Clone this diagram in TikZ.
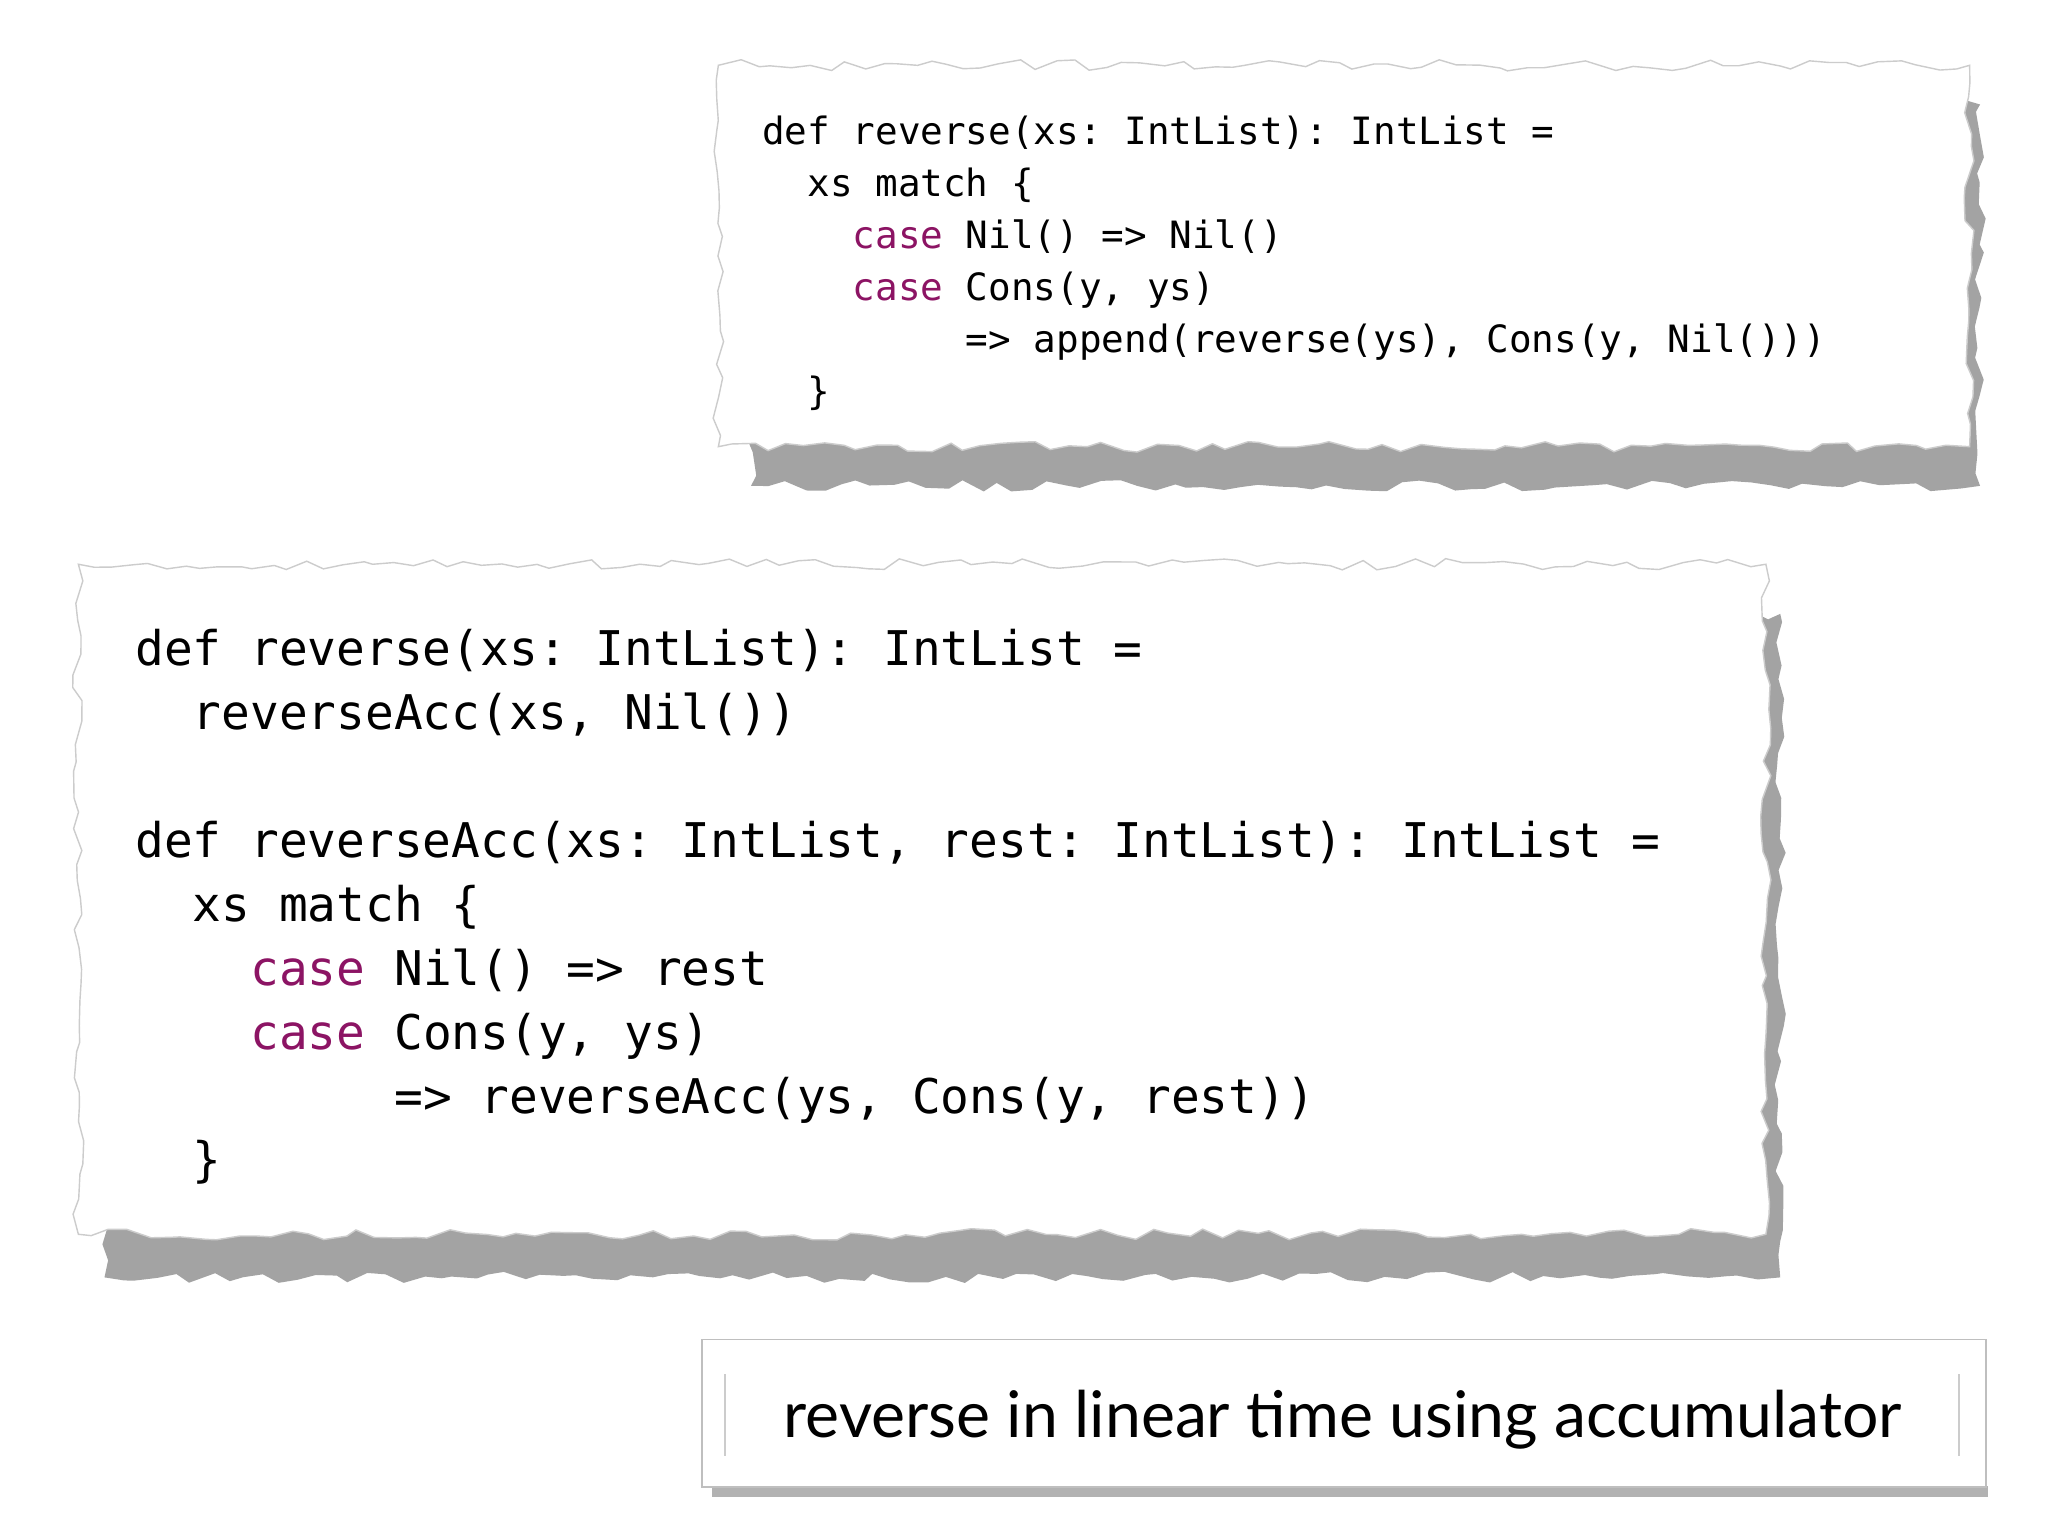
\documentclass[tikz,border=0pt]{standalone}
\usepackage{fontspec}
\setmonofont{DejaVu Sans Mono}
\newfontfamily\captionfont{Lato}
\usetikzlibrary{decorations.pathmorphing}
\definecolor{kwcolor}{RGB}{140,20,100}
\newcommand{\kw}[1]{\textcolor{kwcolor}{#1}}
\tikzset{
    torn/.style={decorate, decoration={random steps, segment length=5pt, amplitude=1.6pt}},
    paper/.style={torn, fill=white, draw=gray!40, line width=0.4pt},
    papershadow/.style={torn, fill=black!65, opacity=0.55},
    code/.style={anchor=north west, align=left, inner sep=0pt, font=\ttfamily}
}
\begin{document}
\begin{tikzpicture}[x=0.01306cm, y=-0.01306cm]
    \pgfmathsetseed{7}
    \useasboundingbox[fill=white] (0,0) rectangle (1568,1176);
    % upper snippet
    \fill[papershadow] (575,80) rectangle (1516,372);
    \fill[paper] (550,50) rectangle (1508,342);
    \node[code, font=\ttfamily\fontsize{10.7}{14.8}\selectfont] (oldrev) at (583,88) {%
        def reverse(xs: IntList): IntList =\\
        ~~xs match \{\\
        ~~~~\kw{case} Nil() => Nil()\\
        ~~~~\kw{case} Cons(y, ys)\\
        ~~~~~~~~~=> append(reverse(ys), Cons(y, Nil()))\\
        ~~\}};
    % lower snippet
    \fill[papershadow] (80,470) rectangle (1363,978);
    \fill[paper] (60,432) rectangle (1352,945);
    \node[code, font=\ttfamily\fontsize{13.6}{18.2}\selectfont] (accrev) at (103,481) {%
        def reverse(xs: IntList): IntList =\\
        ~~reverseAcc(xs, Nil())\\
        \\
        def reverseAcc(xs: IntList, rest: IntList): IntList =\\
        ~~xs match \{\\
        ~~~~\kw{case} Nil() => rest\\
        ~~~~\kw{case} Cons(y, ys)\\
        ~~~~~~~~~=> reverseAcc(ys, Cons(y, rest))\\
        ~~\}};
    % caption
    \fill[black!60, opacity=0.5] (545,1138) rectangle (1522,1146);
    \node[draw=gray!50, fill=white, minimum width=983*0.01306cm, minimum height=113*0.01306cm,
        anchor=north west] (capbox) at (537,1025) {};
    \draw[gray!40] (555,1052) -- (555,1115) (1500,1052) -- (1500,1115);
    \node[font=\captionfont\fontsize{18.3}{22}\selectfont] (caption) at (1028,1087)
        {reverse in linear time using accumulator};
\end{tikzpicture}
\end{document}
